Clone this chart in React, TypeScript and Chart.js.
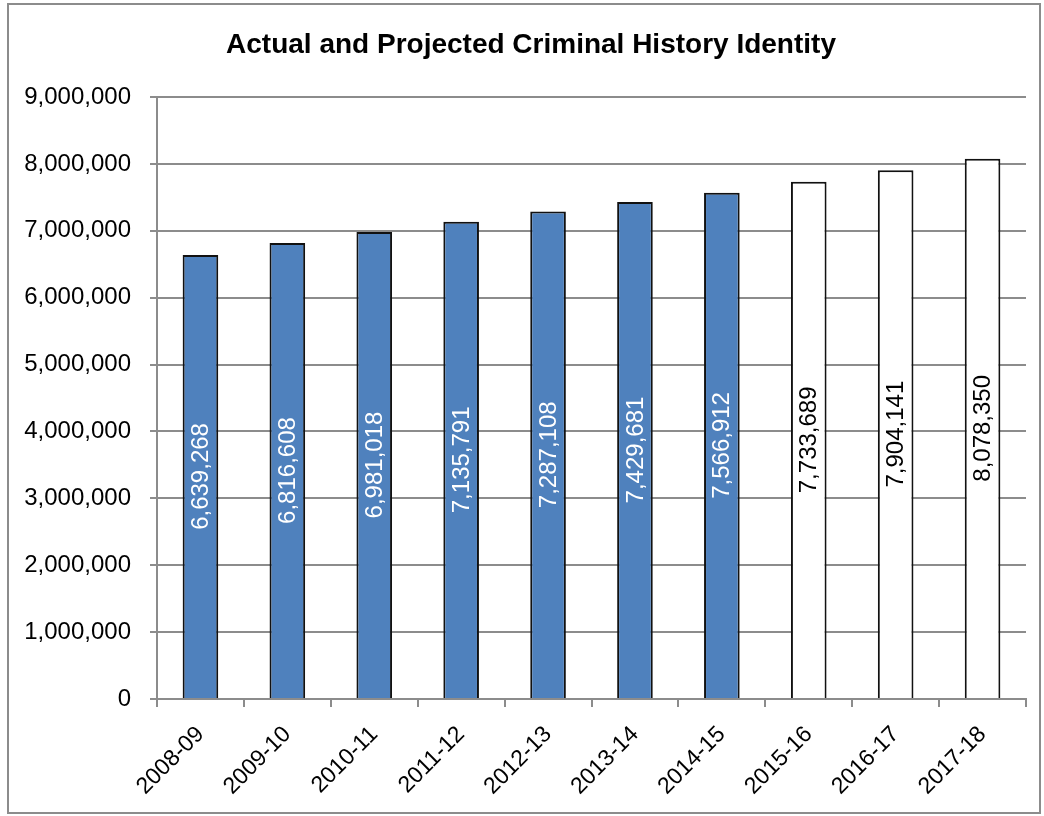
import React, { useEffect, useRef } from "react";
import { Chart, registerables } from "chart.js";

Chart.register(...registerables);

const title = "Actual and Projected Criminal History Identity";
const years = ["2008-09", "2009-10", "2010-11", "2011-12", "2012-13", "2013-14", "2014-15", "2015-16", "2016-17", "2017-18"];
const actualValues = [6639268, 6816608, 6981018, 7135791, 7287108, 7429681, 7566912, null, null, null];
const projectedValues = [null, null, null, null, null, null, null, 7733689, 7904141, 8078350];
const yTickMin = 0;
const yTickMax = 9000000;
const yTickStep = 1000000;

const FONT = "'Liberation Sans', Arial, sans-serif";
const GRID = "#8c8c8c";

const fmt = (v: number) => Number(v).toLocaleString("en-US");

const backgroundPlugin = {
  id: "bgBorder",
  beforeDraw(chart: any) {
    const ctx = chart.ctx;
    ctx.save();
    ctx.fillStyle = "#fff";
    ctx.fillRect(0, 0, chart.width, chart.height);
    ctx.strokeStyle = "#8c8c8c";
    ctx.lineWidth = 2;
    ctx.strokeRect(8, 4, 1032, 809);
    ctx.restore();
  },
};

const titlePlugin = {
  id: "customTitle",
  afterDraw(chart: any) {
    const ctx = chart.ctx;
    ctx.save();
    ctx.font = `bold 28px ${FONT}`;
    ctx.fillStyle = "#000";
    ctx.textAlign = "center";
    ctx.textBaseline = "alphabetic";
    ctx.fillText(title, 531, 53);
    ctx.restore();
  },
};

const barLabelPlugin = {
  id: "barLabels",
  afterDatasetsDraw(chart: any) {
    const ctx = chart.ctx;
    ctx.save();
    ctx.font = `24px ${FONT}`;
    ctx.textAlign = "center";
    ctx.textBaseline = "middle";
    chart.data.datasets.forEach((ds: any, di: number) => {
      const meta = chart.getDatasetMeta(di);
      meta.data.forEach((bar: any, i: number) => {
        const v = ds.data[i];
        if (v == null) return;
        const cy = (bar.y + bar.base) / 2;
        ctx.save();
        ctx.translate(bar.x, cy);
        ctx.rotate(-Math.PI / 2);
        ctx.fillStyle = di === 0 ? "#fff" : "#000";
        ctx.fillText(fmt(v), 0, 1);
        ctx.restore();
      });
    });
    ctx.restore();
  },
};

export default function App() {
  const ref = useRef<HTMLCanvasElement>(null);
  useEffect(() => {
    if (!ref.current) return;
    const chart = new Chart(ref.current, {
      type: "bar",
      data: {
        labels: years,
        datasets: [
          {
            label: "Actual",
            data: actualValues,
            backgroundColor: "#4F81BD",
            borderColor: "#111",
            borderWidth: 2,
            skipNull: true,
          } as any,
          {
            label: "Projected",
            data: projectedValues,
            backgroundColor: "#fff",
            borderColor: "#111",
            borderWidth: 2,
            skipNull: true,
          } as any,
        ],
      },
      options: {
        animation: false,
        responsive: false,
        maintainAspectRatio: false,
        layout: { padding: { top: 97, right: 18, left: 0, bottom: 0 } },
        plugins: {
          legend: { display: false },
          title: { display: false },
          tooltip: { enabled: false },
        },
        datasets: {
          bar: { categoryPercentage: 1, barPercentage: 0.41 },
        },
        scales: {
          x: {
            type: "category",
            offset: true,
            grid: {
              display: true,
              drawOnChartArea: false,
              drawTicks: true,
              tickLength: 8,
              color: GRID,
              lineWidth: 2,
              offset: true,
            },
            border: { display: true, color: GRID, width: 2 },
            ticks: {
              color: "#000",
              font: { family: FONT, size: 23 },
              maxRotation: 45,
              minRotation: 45,
              padding: 14,
              autoSkip: false,
            },
            afterFit(scale: any) {
              scale.height = 816 - 699;
            },
          },
          y: {
            min: yTickMin,
            max: yTickMax,
            grid: {
              display: true,
              drawOnChartArea: true,
              drawTicks: true,
              tickLength: 7,
              color: GRID,
              lineWidth: 2,
            },
            border: { display: true, color: GRID, width: 2 },
            ticks: {
              stepSize: yTickStep,
              color: "#000",
              font: { family: FONT, size: 24 },
              padding: 19,
              callback: (v: any) => fmt(v),
            },
            afterFit(scale: any) {
              scale.width = 157;
            },
          },
        },
      },
      plugins: [backgroundPlugin, titlePlugin, barLabelPlugin],
    } as any);
    return () => chart.destroy();
  }, []);
  return (
    <div style={{ position: "absolute", left: 0, top: 0, width: 1044, height: 816 }}>
      <canvas ref={ref} width={1044} height={816} />
    </div>
  );
}
